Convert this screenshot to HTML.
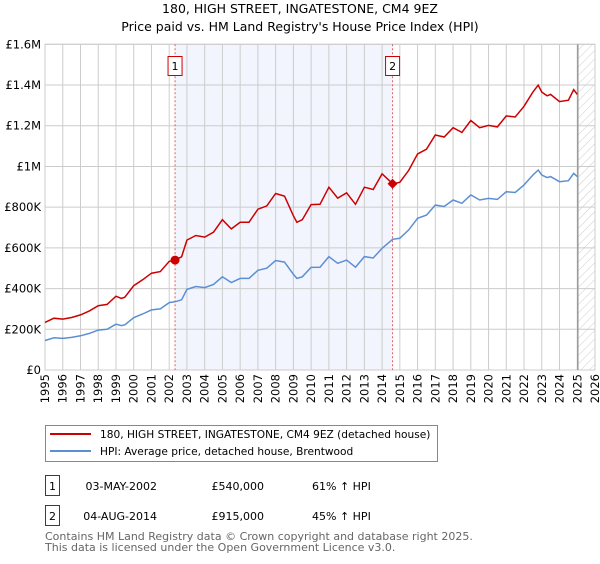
<!DOCTYPE html>
<html><head><meta charset="utf-8"><style>
body{margin:0;background:#fff;font-family:"DejaVu Sans","Liberation Sans",sans-serif;}
svg text{font-family:"DejaVu Sans","Liberation Sans",sans-serif;}
</style></head><body>
<svg id="chart" width="600" height="560" viewBox="0 0 600 560" xmlns="http://www.w3.org/2000/svg">
<defs><pattern id="hatch" patternUnits="userSpaceOnUse" width="6" height="6" patternTransform="rotate(45)"><line x1="0" y1="0" x2="0" y2="6" stroke="#ccc" stroke-width="1"/></pattern></defs>
<text x="300" y="13" text-anchor="middle" font-size="12.5">180, HIGH STREET, INGATESTONE, CM4 9EZ</text>
<text x="300" y="31" text-anchor="middle" font-size="12.5">Price paid vs. HM Land Registry's House Price Index (HPI)</text>
<g id="plot"></g>
<g>
<rect x="45.5" y="425.5" width="392" height="36" fill="#fff" stroke="#888"/>
<line x1="50" y1="434" x2="91" y2="434" stroke="#cc0000" stroke-width="2"/>
<text x="100" y="438" font-size="10.6">180, HIGH STREET, INGATESTONE, CM4 9EZ (detached house)</text>
<line x1="50" y1="451" x2="91" y2="451" stroke="#5b8fd4" stroke-width="2"/>
<text x="100" y="455" font-size="10.6">HPI: Average price, detached house, Brentwood</text>
</g>
<g font-size="11">
<rect x="45.5" y="475.5" width="14" height="20" fill="#fff" stroke="#cc0000"/>
<text x="52.5" y="490" text-anchor="middle">1</text>
<text x="157" y="490" text-anchor="end">03-MAY-2002</text>
<text x="264" y="490" text-anchor="end">£540,000</text>
<text x="312" y="490">61% ↑ HPI</text>
<rect x="45.5" y="505.5" width="14" height="20" fill="#fff" stroke="#cc0000"/>
<text x="52.5" y="520" text-anchor="middle">2</text>
<text x="157" y="520" text-anchor="end">04-AUG-2014</text>
<text x="264" y="520" text-anchor="end">£915,000</text>
<text x="312" y="520">45% ↑ HPI</text>
</g>
<g font-size="11" fill="#666">
<text x="45" y="540">Contains HM Land Registry data © Crown copyright and database right 2025.</text>
<text x="45" y="551">This data is licensed under the Open Government Licence v3.0.</text>
</g>
</svg>
<script>
const hpiYears=[1995,1995.5,1996,1996.5,1997,1997.5,1998,1998.5,1999,1999.3,1999.5,2000,2000.5,2001,2001.5,2002,2002.33,2002.7,2003,2003.5,2004,2004.5,2005,2005.5,2006,2006.5,2007,2007.5,2008,2008.5,2009,2009.2,2009.5,2010,2010.5,2011,2011.5,2012,2012.5,2013,2013.5,2014,2014.59,2015,2015.5,2016,2016.5,2017,2017.5,2018,2018.5,2019,2019.5,2020,2020.5,2021,2021.5,2022,2022.5,2022.8,2023,2023.3,2023.5,2024,2024.5,2024.8,2025];
const hpiValues=[145,158,155,160,168,180,196,200,225,218,222,257,275,295,300,331,335,345,396,410,405,420,458,430,450,450,490,500,538,530,470,450,458,504,505,557,524,540,505,557,550,598,642,647,688,745,761,810,803,835,819,860,835,843,838,876,872,909,958,982,958,945,950,925,930,966,950];
const saleYears=[2002.33,2014.59];
const saleValues=[540,915];
const yTickValues=[0,200,400,600,800,1000,1200,1400,1600];
const yTickLabels=["£0","£200K","£400K","£600K","£800K","£1M","£1.2M","£1.4M","£1.6M"];
const xTickYears=[1995,1996,1997,1998,1999,2000,2001,2002,2003,2004,2005,2006,2007,2008,2009,2010,2011,2012,2013,2014,2015,2016,2017,2018,2019,2020,2021,2022,2023,2024,2025,2026];
const dataEnd=2025.03;
const X0=45,X1=595,Y0=370,Y1=44.3;
const xs=y=>X0+(y-1995)/(2026-1995)*(X1-X0);
const ys=v=>Y0-v/1600*(Y0-Y1);
const NS="http://www.w3.org/2000/svg";
const g=document.getElementById('plot');
function mk(t,a,p){const e=document.createElementNS(NS,t);for(const k in a)e.setAttribute(k,a[k]);(p||g).appendChild(e);return e;}
function hpiAt(y){for(let i=0;i<hpiYears.length-1;i++){if(y>=hpiYears[i]&&y<=hpiYears[i+1]){const t=(y-hpiYears[i])/(hpiYears[i+1]-hpiYears[i]);return hpiValues[i]+t*(hpiValues[i+1]-hpiValues[i]);}}return hpiValues[hpiValues.length-1];}
let sh=mk('rect',{x:xs(saleYears[0]),y:Y1,width:xs(saleYears[1])-xs(saleYears[0]),height:Y0-Y1,fill:'#f2f5fd'});


let ht=mk('rect',{x:xs(dataEnd),y:Y1,width:X1-xs(dataEnd),height:Y0-Y1,fill:'url(#hatch)'});


yTickValues.forEach((v,i)=>{
 let l=mk('line',{x1:X0,x2:X1,y1:ys(v),y2:ys(v),stroke:'#ccc','stroke-width':1});
 
 
 let t=mk('text',{x:X0-4,y:ys(v)+4,'text-anchor':'end','font-size':'11.5'});
 t.textContent=yTickLabels[i];
 
 
});
xTickYears.forEach(yr=>{
 let l=mk('line',{x1:xs(yr),x2:xs(yr),y1:Y1,y2:Y0,stroke:'#ccc','stroke-width':1});
 
 
 let t=mk('text',{x:0,y:0,'text-anchor':'end','font-size':'11.5',transform:`translate(${xs(yr)+4},${Y0+4}) rotate(-90)`});
 t.textContent=yr;
 
 
});
let ax=mk('rect',{x:X0,y:Y1,width:X1-X0,height:Y0-Y1,fill:'none',stroke:'#ccc'});


let de=mk('line',{x1:xs(dataEnd),x2:xs(dataEnd),y1:Y1,y2:Y0,stroke:'#999','stroke-width':1.5});


saleYears.forEach((sy,i)=>{
 let l=mk('line',{x1:xs(sy),x2:xs(sy),y1:Y1,y2:Y0,stroke:'#e06060','stroke-width':1,'stroke-dasharray':'2,2'});
 
 
 let b=mk('rect',{x:xs(sy)-7,y:56.5,width:14,height:19,fill:'#fff',stroke:'#cc0000'});
 
 
 let t=mk('text',{x:xs(sy),y:70,'text-anchor':'middle','font-size':'11'});
 t.textContent=String(i+1);
 
 
});
let hp=hpiYears.map((y,i)=>xs(y).toFixed(1)+','+ys(hpiValues[i]).toFixed(1)).join(' ');
let hl=mk('polyline',{points:hp,fill:'none',stroke:'#5b8fd4','stroke-width':1.5});


let rp=hpiYears.map((y,i)=>{let k=(y<saleYears[1])?0:1;let v=hpiValues[i]*saleValues[k]/hpiAt(saleYears[k]);return xs(y).toFixed(1)+','+ys(v).toFixed(1);}).join(' ');
let rl=mk('polyline',{points:rp,fill:'none',stroke:'#cc0000','stroke-width':1.5});


saleYears.forEach((sy,i)=>{
 const cx=xs(sy),cy=ys(saleValues[i]);
 let c;
 if(i===0){c=mk('circle',{cx:cx,cy:cy,r:4.5,fill:'#cc0000'});}
 else{c=mk('polygon',{points:`${cx},${cy-5} ${cx+5},${cy} ${cx},${cy+5} ${cx-5},${cy}`,fill:'#cc0000'});}
 
 
});
</script>
</body></html>
